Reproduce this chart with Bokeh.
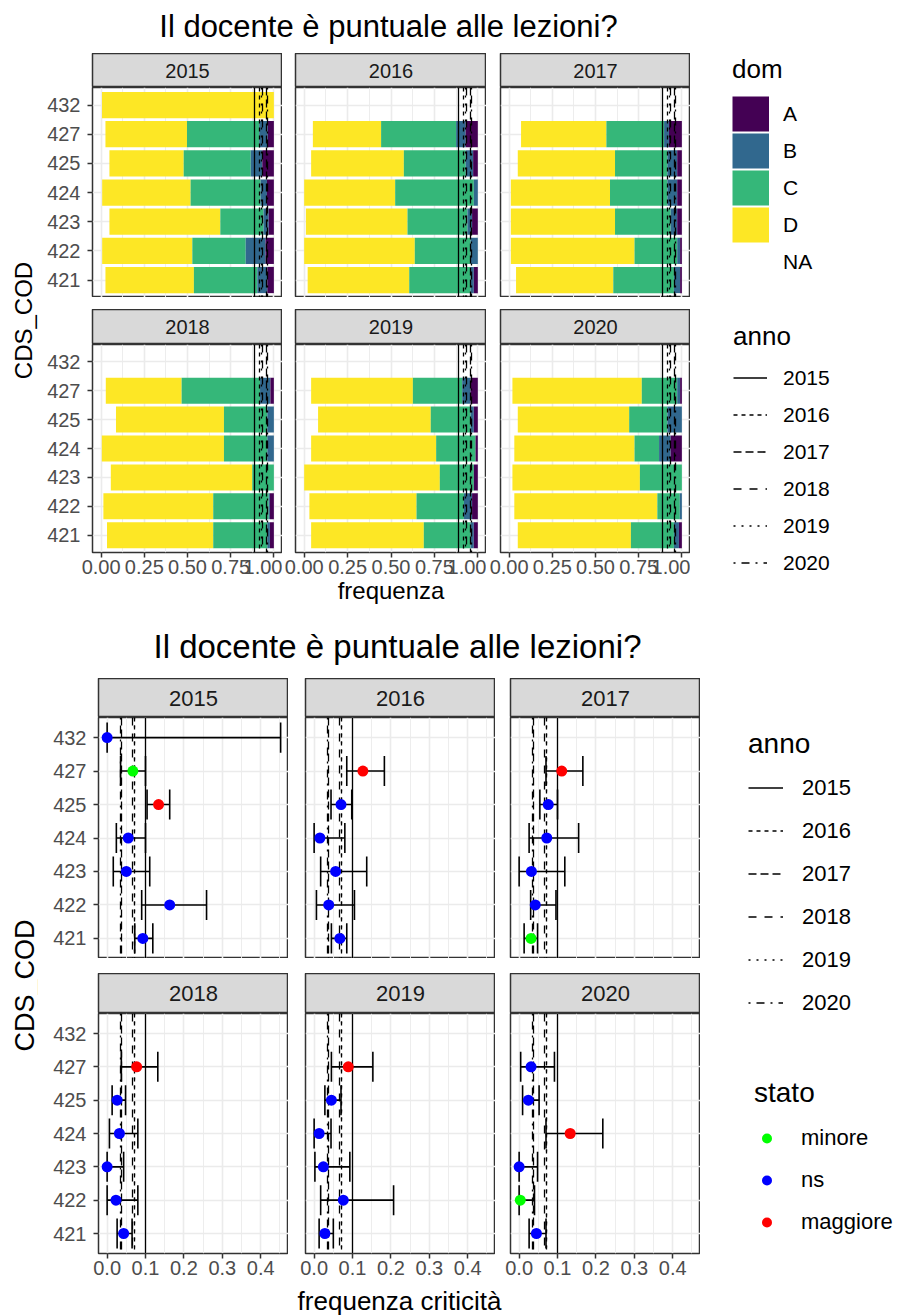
import math
from bokeh.plotting import figure
from bokeh.layouts import column, row
from bokeh.models import Range1d, FixedTicker, Spacer, Legend, LegendItem
from bokeh.core.properties import value
from bokeh.embed import file_html
from bokeh.resources import INLINE

FONT = "Liberation Sans"
NAN = float("nan")

# ---------------- data ----------------
titolo = "Il docente è puntuale alle lezioni?"
cds = ["421", "422", "423", "424", "425", "427", "432"]
anni = ["2015", "2016", "2017", "2018", "2019", "2020"]
dom_levels = ["A", "B", "C", "D", "NA"]

# top chart: share of answers per domain (rows = anni, cols = cds); None = no data
share_NA = [
    [0.025, 0.006, 0.048, 0.006, 0.048, 0.025, 0.005],
    [0.020, 0.000, 0.010, 0.000, 0.040, 0.050, None],
    [0.040, 0.010, 0.010, 0.010, 0.050, 0.069, None],
    [0.034, 0.013, 0.056, 0.004, 0.086, 0.027, None],
    [0.040, 0.030, 0.000, 0.040, 0.080, 0.040, None],
    [0.050, 0.030, 0.019, 0.030, 0.050, 0.019, None],
]
share_D = [
    [0.512, 0.522, 0.642, 0.512, 0.430, 0.472, 0.995],
    [0.585, 0.637, 0.585, 0.524, 0.534, 0.393, None],
    [0.563, 0.716, 0.603, 0.574, 0.563, 0.494, None],
    [0.615, 0.636, 0.819, 0.707, 0.625, 0.439, None],
    [0.649, 0.617, 0.781, 0.720, 0.649, 0.586, None],
    [0.655, 0.828, 0.738, 0.696, 0.645, 0.749, None],
]
share_C = [
    [0.367, 0.309, 0.250, 0.405, 0.388, 0.418, 0.000],
    [0.353, 0.321, 0.345, 0.453, 0.356, 0.432, None],
    [0.351, 0.247, 0.322, 0.332, 0.303, 0.334, None],
    [0.313, 0.321, 0.125, 0.251, 0.251, 0.454, None],
    [0.269, 0.273, 0.196, 0.227, 0.229, 0.284, None],
    [0.249, 0.130, 0.243, 0.142, 0.221, 0.205, None],
]
share_B = [
    [0.058, 0.115, 0.030, 0.037, 0.067, 0.050, 0.000],
    [0.019, 0.042, 0.027, 0.023, 0.043, 0.055, None],
    [0.036, 0.017, 0.038, 0.057, 0.057, 0.028, None],
    [0.015, 0.007, 0.000, 0.038, 0.038, 0.060, None],
    [0.019, 0.047, 0.000, 0.000, 0.019, 0.048, None],
    [0.029, 0.012, 0.000, 0.067, 0.084, 0.017, None],
]
share_A = [
    [0.038, 0.048, 0.030, 0.040, 0.067, 0.035, 0.000],
    [0.023, 0.000, 0.033, 0.000, 0.027, 0.070, None],
    [0.010, 0.010, 0.027, 0.027, 0.027, 0.075, None],
    [0.023, 0.023, 0.000, 0.000, 0.000, 0.020, None],
    [0.023, 0.033, 0.023, 0.013, 0.023, 0.042, None],
    [0.017, 0.000, 0.000, 0.065, 0.000, 0.010, None],
]
# reference line per anno
soglia_freq = [0.890, 0.915, 0.960, 0.935, 0.930, 0.962]
soglia_crit = [0.100, 0.072, 0.038, 0.065, 0.070, 0.036]

# bottom chart: frequency of criticality with interval
freq_crit = [
    [0.093, 0.163, 0.050, 0.055, 0.134, 0.067, 0.000],
    [0.067, 0.038, 0.056, 0.015, 0.070, 0.127, None],
    [0.031, 0.042, 0.032, 0.072, 0.076, 0.111, None],
    [0.043, 0.023, 0.000, 0.032, 0.026, 0.077, None],
    [0.028, 0.076, 0.024, 0.013, 0.045, 0.089, None],
    [0.045, 0.003, 0.000, 0.133, 0.024, 0.031, None],
]
ci_low = [
    [0.072, 0.090, 0.016, 0.024, 0.104, 0.035, 0.000],
    [0.045, 0.006, 0.017, 0.000, 0.044, 0.085, None],
    [0.013, 0.030, 0.000, 0.026, 0.054, 0.070, None],
    [0.026, 0.000, 0.000, 0.006, 0.013, 0.037, None],
    [0.013, 0.017, 0.002, 0.000, 0.028, 0.045, None],
    [0.026, 0.000, 0.000, 0.070, 0.009, 0.004, None],
]
ci_high = [
    [0.119, 0.259, 0.111, 0.100, 0.163, 0.100, 0.452],
    [0.085, 0.105, 0.137, 0.080, 0.098, 0.183, None],
    [0.048, 0.096, 0.119, 0.155, 0.100, 0.166, None],
    [0.065, 0.080, 0.043, 0.080, 0.048, 0.132, None],
    [0.050, 0.207, 0.093, 0.044, 0.070, 0.153, None],
    [0.070, 0.040, 0.048, 0.218, 0.052, 0.092, None],
]
stato = [
    ["ns", "ns", "ns", "ns", "maggiore", "minore", "ns"],
    ["ns", "ns", "ns", "ns", "ns", "maggiore", None],
    ["minore", "ns", "ns", "ns", "ns", "maggiore", None],
    ["ns", "ns", "ns", "ns", "ns", "maggiore", None],
    ["ns", "ns", "ns", "ns", "ns", "maggiore", None],
    ["ns", "minore", "ns", "maggiore", "ns", "ns", None],
]
stato_levels = ["minore", "ns", "maggiore"]

x1_ticks = [0.0, 0.25, 0.5, 0.75, 1.0]
x1_minor = [0.125, 0.375, 0.625, 0.875]
x1_labels = ["0.00", "0.25", "0.50", "0.75", "1.00"]
x2_ticks = [0.0, 0.1, 0.2, 0.3, 0.4]
x2_minor = [0.05, 0.15, 0.25, 0.35, 0.45]
x2_labels = ["0.0", "0.1", "0.2", "0.3", "0.4"]

# ---------------- styles ----------------
dom_colors = {"A": "#440154", "B": "#31688E", "C": "#35B779", "D": "#FDE725"}
stato_colors = {"minore": "#00FF00", "ns": "#0000FF", "maggiore": "#FF0000"}
anno_dash = ["solid", "4 4", "8 4", "8 8", "2 6", "2 6 8 6"]
ypos = list(range(1, len(cds) + 1))


def blank_fig(w, h, xr, yr):
    f = figure(width=w, height=h, x_range=xr, y_range=yr, output_backend="svg",
               toolbar_location=None, x_axis_location=None, y_axis_location=None,
               min_border_left=0, min_border_right=0, min_border_top=0, min_border_bottom=0,
               outline_line_color=None)
    f.grid.visible = False
    return f


def text_fig(w, h, x, y, txt, px, angle=0.0):
    f = blank_fig(w, h, Range1d(0, w), Range1d(0, h))
    f.text(x=[x], y=[y], text=[txt], angle=angle, text_align="center", text_baseline="middle",
           text_font=value(FONT), text_font_size=value(f"{px}px"), text_color="black")
    return f


def strip_fig(w, h, mbl, label, px):
    s = figure(width=w, height=h, x_range=Range1d(0, 1), y_range=Range1d(0, 1), output_backend="svg",
               toolbar_location=None, x_axis_location=None, y_axis_location=None,
               min_border_left=mbl, min_border_right=0, min_border_top=0, min_border_bottom=0,
               background_fill_color="#D9D9D9", border_fill_color="white",
               outline_line_color="#333333", outline_line_width=1.5)
    s.grid.visible = False
    s.text(x=[0.5], y=[0.5], text=[label], text_align="center", text_baseline="middle",
           text_font=value(FONT), text_font_size=value(f"{px}px"), text_color="#1A1A1A")
    return s


def panel_fig(w, h, mbl, mbb, xr, ticks, minor, labels, show_x, show_y, xlabel=None, xlabel_px=24):
    p = figure(width=w, height=h, x_range=xr, y_range=Range1d(0.4, len(cds) + 0.6),
               output_backend="svg", toolbar_location=None,
               x_axis_location="below" if show_x else None,
               y_axis_location="left" if show_y else None,
               min_border_left=mbl, min_border_right=0, min_border_top=0, min_border_bottom=mbb,
               background_fill_color="white", border_fill_color="white",
               outline_line_color="#333333", outline_line_width=1.5)
    xt = FixedTicker(ticks=ticks, minor_ticks=minor)
    yt = FixedTicker(ticks=ypos)
    p.xgrid.ticker = xt
    p.ygrid.ticker = yt
    p.grid.grid_line_color = "#EBEBEB"
    p.grid.grid_line_width = 1.6
    p.xgrid.minor_grid_line_color = "#EBEBEB"
    p.xgrid.minor_grid_line_width = 0.9
    axes = []
    if show_x:
        ax = p.xaxis[0]
        ax.ticker = xt
        ax.major_label_overrides = dict(zip(ticks, labels))
        ax.major_label_standoff = 2
        if xlabel:
            ax.axis_label = xlabel
            ax.axis_label_text_font = FONT
            ax.axis_label_text_font_size = f"{xlabel_px}px"
            ax.axis_label_text_font_style = "normal"
            ax.axis_label_text_color = "black"
            ax.axis_label_standoff = 0
        axes.append(ax)
    if show_y:
        ay = p.yaxis[0]
        ay.ticker = yt
        ay.major_label_overrides = dict(zip(ypos, cds))
        ay.major_label_standoff = 7
        axes.append(ay)
    for a in axes:
        a.axis_line_color = None
        a.major_tick_line_color = "#333333"
        a.major_tick_line_width = 1.5
        a.major_tick_in = 0
        a.major_tick_out = 5
        a.minor_tick_line_color = None
        a.major_label_text_font = FONT
        a.major_label_text_font_size = "20px"
        a.major_label_text_color = "#4D4D4D"
    return p


def make_legend(items, loc, title, title_px, label_px, gw, gh, standoff, tstand):
    return Legend(items=items, location=loc, title=title, title_text_font=FONT,
                  title_text_font_size=f"{title_px}px", title_text_font_style="normal",
                  title_text_color="black", title_standoff=tstand,
                  label_text_font=FONT, label_text_font_size=f"{label_px}px",
                  label_text_color="black", glyph_width=gw, glyph_height=gh,
                  label_height=gh, spacing=0, label_standoff=standoff,
                  padding=0, margin=0, border_line_color=None, background_fill_alpha=0)


# ================= chart 1: stacked bars =================
YLAB_W = 38
C1_W = [244, 204, 204]
C1_L = [54, 13, 14]
C1_FRAME_H = [210, 208]
C1_STRIP = [34, 35]
C1_GAP = 12
C1_BOTTOM = 66

shares = {"NA": share_NA, "D": share_D, "C": share_C, "B": share_B, "A": share_A}
stack_order = ["NA", "D", "C", "B", "A"]

rows1 = []
for r in range(2):
    strips, panels = [], []
    for c in range(3):
        i = r * 3 + c
        bottom = (r == 1)
        h = C1_FRAME_H[r] + (C1_BOTTOM if bottom else 0)
        p = panel_fig(C1_W[c], h, C1_L[c], C1_BOTTOM if bottom else 0, Range1d(-0.05, 1.05),
                      x1_ticks, x1_minor, x1_labels, bottom, c == 0,
                      "frequenza" if (bottom and c == 1) else None, 24)
        valid = [j for j in range(len(cds)) if share_NA[i][j] is not None]
        cum = {j: 0.0 for j in valid}
        for lev in stack_order:
            y = [ypos[j] for j in valid]
            left = [cum[j] for j in valid]
            right = [cum[j] + shares[lev][i][j] for j in valid]
            for j in valid:
                cum[j] += shares[lev][i][j]
            if lev != "NA":
                p.hbar(y=y, left=left, right=right, height=0.9, fill_color=dom_colors[lev], line_color=None)
        for k in range(len(anni)):
            p.vspan(x=[soglia_freq[k]], line_color="black", line_width=1.3, line_dash=anno_dash[k])
        strips.append(strip_fig(C1_W[c], C1_STRIP[r], C1_L[c], anni[i], 20))
        panels.append(p)
    rows1.append(row(*strips))
    rows1.append(row(*panels))
    if r == 0:
        rows1.append(Spacer(width=10, height=C1_GAP))
grid1 = column(*rows1)
G1_H = sum(C1_STRIP) + sum(C1_FRAME_H) + C1_GAP + C1_BOTTOM

ylab1 = text_fig(YLAB_W, G1_H, 23, G1_H - 267, "CDS_COD", 24, angle=math.pi / 2)

leg1 = blank_fig(897 - YLAB_W - sum(C1_W), G1_H, Range1d(0, 1), Range1d(0, 1))
dom_items = []
for lev in dom_levels:
    if lev == "NA":
        rr = leg1.line(x=[NAN], y=[NAN], line_width=35, line_alpha=0)
    else:
        rr = leg1.line(x=[NAN], y=[NAN], line_width=35, line_color=dom_colors[lev])
    dom_items.append(LegendItem(label=lev, renderers=[rr]))
anno_items1 = []
for k, a in enumerate(anni):
    rr = leg1.line(x=[NAN], y=[NAN], line_color="black", line_width=1.6, line_dash=anno_dash[k])
    anno_items1.append(LegendItem(label=a, renderers=[rr]))
leg1.add_layout(make_legend(dom_items, (42, G1_H - 227), "dom", 26, 21, 37, 37, 14, 10))
leg1.add_layout(make_legend(anno_items1, (43, G1_H - 528), "anno", 26, 21, 34, 37, 16, 7))

title1 = text_fig(897, 53, 388, 27, titolo, 31)
chart1 = column(title1, row(ylab1, grid1, leg1))

# ================= chart 2: criticality =================
C2_W = [250, 207, 205]
C2_L = [60, 17, 15]
C2_FRAME_H = [241, 240]
C2_STRIP = [39, 40]
C2_GAP = 15
C2_TICKS = 30
C2_XLAB = 32

rows2 = []
for r in range(2):
    strips, panels = [], []
    for c in range(3):
        i = r * 3 + c
        bottom = (r == 1)
        h = C2_FRAME_H[r] + (C2_TICKS if bottom else 0)
        p = panel_fig(C2_W[c], h, C2_L[c], C2_TICKS if bottom else 0, Range1d(-0.0225, 0.4725),
                      x2_ticks, x2_minor, x2_labels, bottom, c == 0)
        for k in range(len(anni)):
            p.vspan(x=[soglia_crit[k]], line_color="black", line_width=1.3, line_dash=anno_dash[k])
        valid = [j for j in range(len(cds)) if freq_crit[i][j] is not None]
        y = [ypos[j] for j in valid]
        lo = [ci_low[i][j] for j in valid]
        hi = [ci_high[i][j] for j in valid]
        p.segment(x0=lo, y0=y, x1=hi, y1=y, line_color="black", line_width=1.6)
        yb = [v - 0.45 for v in y]
        yt_ = [v + 0.45 for v in y]
        p.segment(x0=lo, y0=yb, x1=lo, y1=yt_, line_color="black", line_width=1.6)
        p.segment(x0=hi, y0=yb, x1=hi, y1=yt_, line_color="black", line_width=1.6)
        p.scatter(x=[freq_crit[i][j] for j in valid], y=y, size=11,
                  fill_color=[stato_colors[stato[i][j]] for j in valid], line_color=None)
        strips.append(strip_fig(C2_W[c], C2_STRIP[r], C2_L[c], anni[i], 22))
        panels.append(p)
    rows2.append(row(*strips))
    rows2.append(row(*panels))
    if r == 0:
        rows2.append(Spacer(width=10, height=C2_GAP))
G2_W = sum(C2_W)
rows2.append(text_fig(G2_W, C2_XLAB, 361, 15, "frequenza criticità", 26))
grid2 = column(*rows2)
G2_H = sum(C2_STRIP) + sum(C2_FRAME_H) + C2_GAP + C2_TICKS + C2_XLAB

ylab2 = text_fig(YLAB_W, G2_H, 24, G2_H - 307, "CDS_COD", 27, angle=math.pi / 2)

leg2 = blank_fig(897 - YLAB_W - G2_W, G2_H, Range1d(0, 1), Range1d(0, 1))
anno_items2 = []
for k, a in enumerate(anni):
    rr = leg2.line(x=[NAN], y=[NAN], line_color="black", line_width=1.6, line_dash=anno_dash[k])
    anno_items2.append(LegendItem(label=a, renderers=[rr]))
stato_items = []
for s in stato_levels:
    rr = leg2.scatter(x=[NAN], y=[NAN], size=10, fill_color=stato_colors[s], line_color=None)
    stato_items.append(LegendItem(label=s, renderers=[rr]))
leg2.add_layout(make_legend(anno_items2, (48, G2_H - 346), "anno", 28, 22, 35, 43, 19, 6))
leg2.add_layout(make_legend(stato_items, (54, G2_H - 565), "stato", 28, 22, 25, 42, 22, 8))

title2 = text_fig(897, 60, 397, 32, titolo, 33)
chart2 = column(title2, row(ylab2, grid2, leg2))

layout = column(chart1, chart2)
open("out.html", "w").write(file_html(layout, INLINE))
